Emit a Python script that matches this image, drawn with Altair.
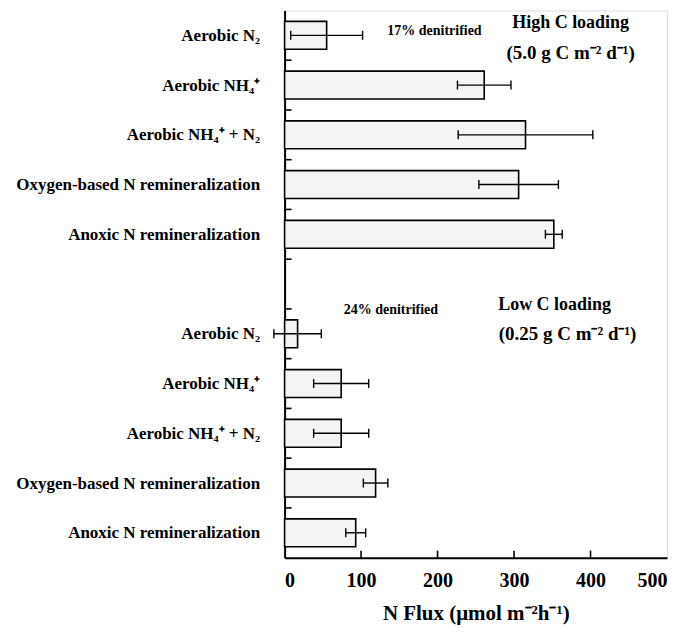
import altair as alt
import pandas as pd

# ---- data ----
labels = ["Aerobic N₂", "Aerobic NH₄⁺", "Aerobic NH₄⁺ + N₂",
          "Oxygen-based N remineralization", "Anoxic N remineralization"]
high_vals = [55, 261, 315, 306, 352]
high_err = [47, 35, 88, 52, 11]
low_vals = [17, 74, 74, 119, 93]
low_err = [31, 36, 36, 16, 13]
x_ticks = [0, 100, 200, 300, 400, 500]

# slot positions (top group 0.5..4.5, bottom group 6.5..10.5)
high_pos = [0.5, 1.5, 2.5, 3.5, 4.5]
low_pos = [6.5, 7.5, 8.5, 9.5, 10.5]
boundaries = [1, 2, 3, 4, 5, 6, 7, 8, 9, 10]

annot_text = ["17% denitrified", "High C loading", "(5.0 g C m⁻² d⁻¹)",
              "24% denitrified", "Low C loading", "(0.25 g C m⁻² d⁻¹)"]
annot_x = [196, 374, 374, 139, 353, 370]
annot_y = [0.42, 0.26, 0.85, 6.02, 5.93, 6.5]
annot_size = [14, 18, 19, 14, 18, 19]

rows = []
for lab, p, v, e in zip(labels, high_pos, high_vals, high_err):
    rows.append(dict(label=lab, pos=p, val=v, lo=v - e, hi=v + e))
for lab, p, v, e in zip(labels, low_pos, low_vals, low_err):
    rows.append(dict(label=lab, pos=p, val=v, lo=v - e, hi=v + e))
df = pd.DataFrame(rows)
df["zero"] = 0
df["b0"] = df["pos"] - 0.28
df["b1"] = df["pos"] + 0.28
df["c0"] = df["pos"] - 0.09
df["c1"] = df["pos"] + 0.09

ann = pd.DataFrame(dict(text=annot_text, x=annot_x, y=annot_y, size=annot_size))
bdf = pd.DataFrame(dict(b=boundaries))
xt = pd.DataFrame(dict(t=x_ticks[1:-1]))

FONT = "Liberation Serif"

# label expression for the y axis
expr = "''"
for p, lab in reversed(list(zip(df["pos"], df["label"]))):
    expr = f"datum.value == {p} ? '{lab}' : ({expr})"

yscale = alt.Scale(domain=[0, 11], reverse=True, nice=False, zero=False)
xscale = alt.Scale(domain=[0, 500], nice=False)

base = alt.Chart(df)

bars = base.mark_rect(fill="#f4f4f4", stroke="black", strokeWidth=1.6).encode(
    x=alt.X("zero:Q", scale=xscale,
            axis=alt.Axis(values=x_ticks, format="d", title="N Flux (μmol m⁻²h⁻¹)",
                          labelFont=FONT, labelFontSize=20, labelFontWeight="bold",
                          labelColor="black", labelPadding=13, tickSize=0,
                          titleFont=FONT, titleFontSize=21, titleFontWeight="bold",
                          titleColor="black", titlePadding=12,
                          domainColor="black", domainWidth=2, grid=False)),
    x2="val:Q",
    y=alt.Y("b0:Q", scale=yscale,
            axis=alt.Axis(values=list(df["pos"]), labelExpr=expr, title=None,
                          labelFont=FONT, labelFontSize=17, labelFontWeight="bold",
                          labelColor="black", labelPadding=25, tickSize=0,
                          labelLimit=400,
                          domainColor="black", domainWidth=2, grid=False,
                          labelOverlap=False)),
    y2="b1:Q",
)

err = base.mark_rule(color="black", strokeWidth=1.4).encode(
    x="lo:Q", x2="hi:Q", y="pos:Q")
cap_lo = base.mark_rule(color="black", strokeWidth=1.4).encode(
    x="lo:Q", y="c0:Q", y2="c1:Q")
cap_hi = base.mark_rule(color="black", strokeWidth=1.4).encode(
    x="hi:Q", y="c0:Q", y2="c1:Q")

yticks = alt.Chart(bdf).mark_rule(color="black", strokeWidth=1.6).encode(
    y="b:Q", x=alt.value(0), x2=alt.value(7))
xticks = alt.Chart(xt).mark_rule(color="black", strokeWidth=1.6).encode(
    x="t:Q", y=alt.value(548), y2=alt.value(541))

text = alt.Chart(ann).mark_text(font=FONT, fontWeight="bold", color="black",
                                align="center", baseline="middle").encode(
    x="x:Q", y="y:Q", text="text:N",
    size=alt.Size("size:Q", scale=None, legend=None))

chart = alt.layer(bars, err, cap_lo, cap_hi, yticks, xticks, text).properties(
    width=383, height=548,
    autosize=alt.AutoSizeParams(type="none"),
    padding={"left": 277, "top": 2, "right": 10, "bottom": 80},
).configure_view(stroke="#444", strokeWidth=1).configure(background="white")

chart.save("out.html", embed_options={"renderer": "svg", "actions": False})
